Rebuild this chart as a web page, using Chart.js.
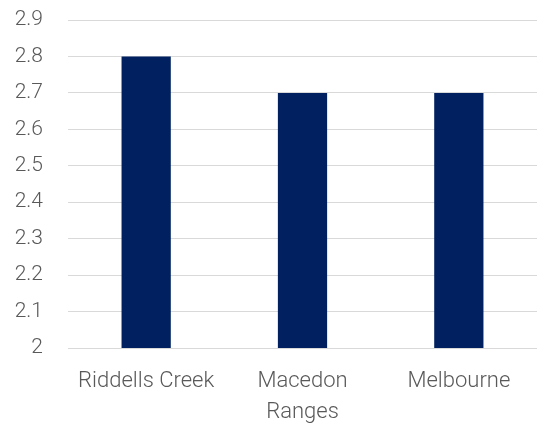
<!DOCTYPE html>
<html><head><meta charset="utf-8">
<script src="https://cdn.jsdelivr.net/npm/chart.js@4"></script>
<style>html,body{margin:0;padding:0;background:#fff;}canvas{display:block;}</style>
</head><body>
<canvas id="c" width="537" height="423"></canvas>
<script>
const categories = [["Riddells Creek"], ["Macedon", "Ranges"], ["Melbourne"]];
const values = [2.8, 2.7, 2.7];
const yMin = 2, yMax = 2.9, yStep = 0.1;

new Chart(document.getElementById('c'), {
  type: 'bar',
  data: {labels: categories, datasets: [{data: values, backgroundColor: '#002060', borderWidth: 0, barPercentage: 0.63, categoryPercentage: 0.5}]},
  options: {
    responsive: false, animation: false,
    layout: {padding: {top: 20, right: 0, left: 0, bottom: 0}},
    plugins: {legend: {display: false}, tooltip: {enabled: false}},
    scales: {
      y: {min: yMin, max: yMax, ticks: {stepSize: yStep, color: '#595959', font: {family: "Roboto", size: 21, weight: 300}, padding: 25,
            callback: v => String(Math.round(v * 10) / 10)},
          grid: {color: '#d9d9d9', lineWidth: 1, drawTicks: false}, border: {display: false},
          afterFit: s => { s.width = 68; s.paddingTop = 0; s.paddingBottom = 0; }},
      x: {ticks: {color: '#595959', font: {family: "Roboto", size: 22, weight: 300, lineHeight: 1.4}, padding: 10, maxRotation: 0},
          grid: {display: false}, border: {display: false},
          afterFit: s => { s.height = 75; s.paddingLeft = 0; s.paddingRight = 0; }}
    }
  }
});
</script>
</body></html>
